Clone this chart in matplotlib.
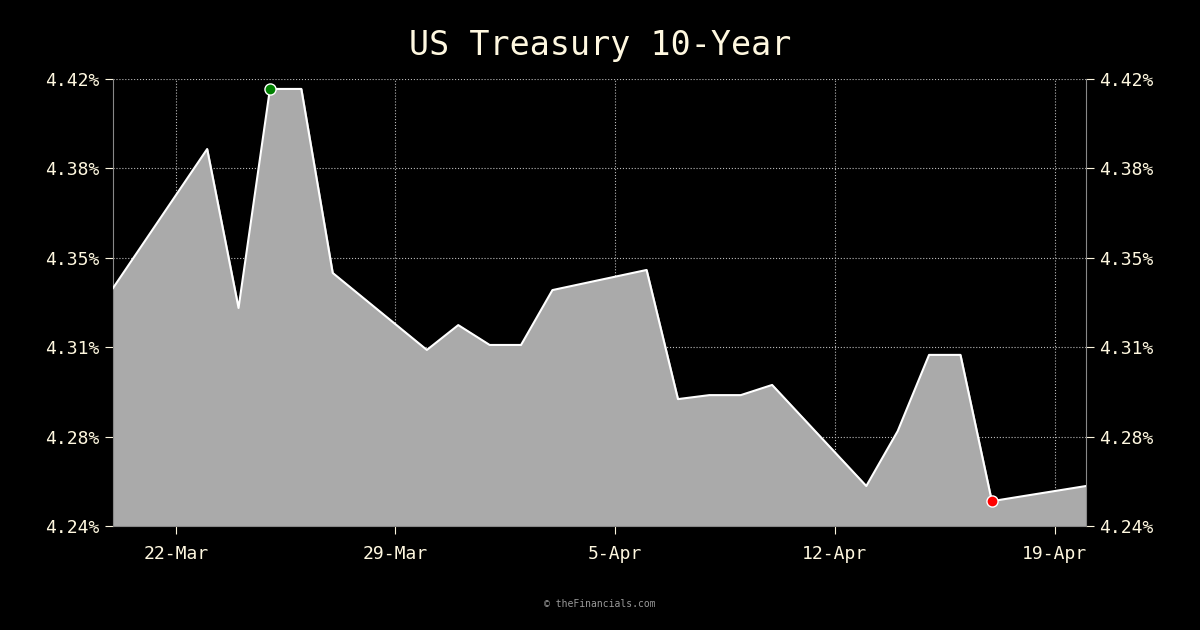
import matplotlib
matplotlib.use("Agg")
import matplotlib.pyplot as plt
import numpy as np
import pandas as pd

plt.rcParams["font.family"] = ["DejaVu Sans Mono", "DejaVu Sans"]

dates = ["2026-03-20","2026-03-23","2026-03-24","2026-03-25","2026-03-26","2026-03-27",
         "2026-03-30","2026-03-31","2026-04-01","2026-04-02","2026-04-03",
         "2026-04-06","2026-04-07","2026-04-08","2026-04-09","2026-04-10",
         "2026-04-13","2026-04-14","2026-04-15","2026-04-16","2026-04-17","2026-04-20"]
values = [4.3358,4.3918,4.3278,4.416,4.416,4.3419,
          4.3109,4.3209,4.3129,4.3129,4.335,
          4.3431,4.2911,4.2927,4.2927,4.2968,
          4.2561,4.2782,4.3089,4.3089,4.2500,4.2561]
tick_dates = ["2026-03-22","2026-03-29","2026-04-05","2026-04-12","2026-04-19"]
tick_labels = ["22-Mar","29-Mar","5-Apr","12-Apr","19-Apr"]
ymin, ymax = 4.24, 4.42

x = pd.to_datetime(dates)
y = np.array(values)
fg = "#fff8e0"

fig = plt.figure(figsize=(12, 6.3), dpi=100, facecolor="black")
ax = fig.add_axes([113/1200, 1-526/630, (1086-113)/1200, (526-79)/630])
ax.set_facecolor("black")
ax.fill_between(x, y, ymin, color="#aaaaaa", zorder=2)
ax.plot(x, y, color="white", lw=1.5, zorder=3)
imax, imin = int(np.argmax(y)), int(np.argmin(y))
ax.plot(x[imax], y[imax], "o", color="green", mec="white", mew=1, ms=8, zorder=4)
ax.plot(x[imin], y[imin], "o", color="red", mec="white", mew=1, ms=8, zorder=4)
ax.set_xlim(x[0], x[-1])
ax.set_ylim(ymin, ymax)
yt = np.linspace(ymin, ymax, 6)
ax.set_yticks(yt)
ax.set_yticklabels([f"{v:.2f}%" for v in yt])
ax.set_xticks(pd.to_datetime(tick_dates))
ax.set_xticklabels(tick_labels)
ax.tick_params(axis="both", colors=fg, labelsize=13, length=6, direction="out")
ax.tick_params(axis="y", which="both", left=True, right=True, labelleft=True, labelright=True)
ax.tick_params(axis="x", pad=8)
for s in ax.spines.values():
    s.set_visible(False)
for side in ("left", "right", "bottom"):
    ax.spines[side].set_visible(True)
    ax.spines[side].set_color("#888888")
ax.grid(True, color="#bbbbbb", linestyle=":", lw=0.8, zorder=1)
ax.set_axisbelow(True)
fig.text(0.5, 1-45/630, "US Treasury 10-Year", color=fg, fontsize=24, ha="center", va="center")
fig.text(0.5, 1-604/630, "© theFinancials.com", color="#999999", fontsize=7, ha="center", va="center")
fig.savefig("out.png", facecolor="black")
